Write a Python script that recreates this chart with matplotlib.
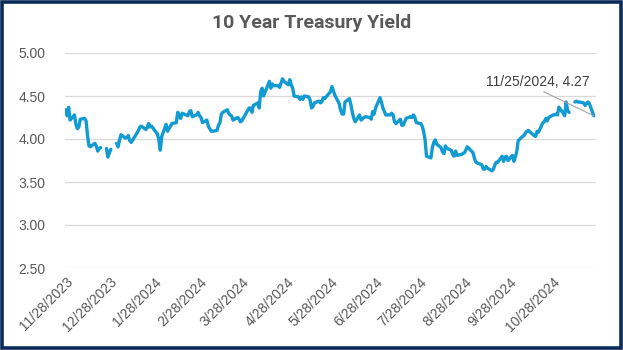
import matplotlib
matplotlib.use("Agg")
import matplotlib.pyplot as plt
from matplotlib import font_manager
from matplotlib.patches import Rectangle
import numpy as np
import pandas as pd

# ---- data -------------------------------------------------------------
start_date = "2023-11-28"
end_date = "2024-11-25"
# Market holidays left out of the series entirely
market_closed = ["2024-01-15", "2024-02-19", "2024-03-29", "2024-05-27",
                 "2024-06-19", "2024-07-04", "2024-09-02", "2024-10-14"]

nan = np.nan
yields = [
    # Nov 2023
    4.34, 4.27, 4.37,
    # Dec 2023
    4.22, 4.28, 4.17, 4.12, 4.14, 4.23, 4.24, 4.21, 4.04, 3.92, 3.91, 3.95,
    3.92, 3.86, 3.89, 3.90, nan, 3.89, 3.79, 3.84, 3.88,
    # Jan 2024
    nan, 3.95, 3.91, 3.99, 4.05, 4.01, 4.02, 4.04, 3.98, 3.96, 4.07, 4.10,
    4.14, 4.15, 4.11, 4.13, 4.18, 4.14, 4.15, 4.08, 4.06, 3.99,
    # Feb 2024
    3.87, 4.03, 4.17, 4.09, 4.12, 4.15, 4.18, 4.19, 4.31, 4.27, 4.24, 4.30,
    4.27, 4.32, 4.33, 4.26, 4.28, 4.31, 4.27, 4.25,
    # Mar 2024
    4.19, 4.22, 4.15, 4.12, 4.09, 4.09, 4.10, 4.16, 4.19, 4.29, 4.31, 4.34,
    4.30, 4.28, 4.27, 4.22, 4.25, 4.24, 4.20, 4.21,
    # Apr 2024
    4.33, 4.36, 4.36, 4.31, 4.39, 4.42, 4.36, 4.55, 4.59, 4.50, 4.63, 4.67,
    4.59, 4.64, 4.62, 4.62, 4.60, 4.65, 4.70, 4.67, 4.63, 4.69,
    # May 2024
    4.63, 4.59, 4.50, 4.49, 4.46, 4.49, 4.46, 4.50, 4.49, 4.45, 4.36, 4.38,
    4.42, 4.44, 4.42, 4.43, 4.48, 4.47, 4.55, 4.61, 4.56, 4.51,
    # Jun 2024
    4.41, 4.33, 4.29, 4.29, 4.43, 4.47, 4.40, 4.31, 4.24, 4.20, 4.28, 4.22,
    4.25, 4.26, 4.25, 4.23, 4.32, 4.29, 4.36,
    # Jul 2024
    4.48, 4.43, 4.36, 4.28, 4.28, 4.30, 4.28, 4.20, 4.18, 4.23, 4.16, 4.16,
    4.20, 4.24, 4.26, 4.25, 4.28, 4.25, 4.19, 4.18, 4.15, 4.09,
    # Aug 2024
    3.99, 3.80, 3.78, 3.90, 3.96, 3.99, 3.94, 3.90, 3.85, 3.83, 3.92, 3.89,
    3.87, 3.82, 3.80, 3.86, 3.81, 3.82, 3.83, 3.84, 3.87, 3.91,
    # Sep 2024
    3.84, 3.77, 3.73, 3.72, 3.70, 3.65, 3.65, 3.68, 3.66, 3.63, 3.65, 3.70,
    3.73, 3.73, 3.80, 3.74, 3.79, 3.80, 3.75, 3.81,
    # Oct 2024
    3.74, 3.79, 3.85, 3.98, 4.03, 4.04, 4.07, 4.09, 4.10, 4.04, 4.03, 4.09,
    4.08, 4.19, 4.20, 4.24, 4.21, 4.25, 4.28, 4.28, 4.29, 4.28,
    # Nov 2024
    4.37, 4.30, 4.27, 4.43, 4.33, 4.31, nan, 4.43, 4.44, 4.43, 4.43, 4.42,
    4.39, 4.41, 4.43, 4.41, 4.27,
]

y_ticks = [2.50, 3.00, 3.50, 4.00, 4.50, 5.00]
x_tick_labels = ["11/28/2023", "12/28/2023", "1/28/2024", "2/28/2024",
                 "3/28/2024", "4/28/2024", "5/28/2024", "6/28/2024",
                 "7/28/2024", "8/28/2024", "9/28/2024", "10/28/2024"]

title = "10 Year Treasury Yield"
label_date = "11/25/2024"
label_value = 4.27

# ---- build series -----------------------------------------------------
days = pd.bdate_range(start_date, end_date)
days = days[~days.isin(pd.to_datetime(market_closed))]
series = pd.Series(yields, index=days)

# ---- styling ----------------------------------------------------------
available = {f.name for f in font_manager.fontManager.ttflist}
title_font = "Liberation Sans Narrow" if "Liberation Sans Narrow" in available else "Roboto"
plt.rcParams["font.family"] = ["Liberation Sans", "DejaVu Sans"]

LINE = "#129BD1"
GRID = "#D9D9D9"
TEXT = "#595959"
BORDER = "#0B2B5C"

fig = plt.figure(figsize=(6.23, 3.50), dpi=100)
ax = fig.add_axes([65 / 623, 1 - 268 / 350, (596 - 65) / 623, (268 - 53) / 350])

ax.plot(series.index, series.values, color=LINE, lw=2.4,
        solid_joinstyle="round", solid_capstyle="round")

ax.set_ylim(2.5, 5.0)
ax.set_yticks(y_ticks)
ax.set_yticklabels([f"{v:.2f}" for v in y_ticks])
ax.set_xlim(pd.Timestamp(start_date) - pd.Timedelta(days=0.5),
            pd.Timestamp(end_date) + pd.Timedelta(days=1.5))
ax.set_xticks(pd.to_datetime(x_tick_labels, format="%m/%d/%Y"))
ax.set_xticklabels(x_tick_labels, rotation=45, ha="right", va="top",
                   rotation_mode="anchor")

ax.grid(axis="y", color=GRID, lw=0.9)
ax.set_axisbelow(True)
for s in ax.spines.values():
    s.set_visible(False)
ax.tick_params(axis="both", length=0, labelsize=10, labelcolor=TEXT)
ax.tick_params(axis="y", pad=14)
ax.tick_params(axis="x", pad=5)

# callout for the latest reading
last_x = pd.to_datetime(label_date, format="%m/%d/%Y")
ax.annotate(f"{label_date}, {label_value:.2f}", xy=(last_x, label_value),
            xytext=(538 / 623, 1 - 82 / 350), textcoords="figure fraction",
            ha="center", va="center", fontsize=10, color="#404040",
            arrowprops=dict(arrowstyle="-", color="#A6A6A6", lw=0.8,
                            shrinkA=0, shrinkB=0,
                            relpos=(0.5, 0.0)))

fig.text(0.5, 1 - 23 / 350, title, ha="center", va="center",
         fontsize=14, fontweight="bold", color=TEXT, family=title_font)

# navy frame around the whole figure
fig.patches.append(Rectangle((0.003, 0.005), 0.994, 0.99, transform=fig.transFigure,
                             fill=False, edgecolor=BORDER, lw=2.6))

fig.savefig("out.png", dpi=100, facecolor="white")
